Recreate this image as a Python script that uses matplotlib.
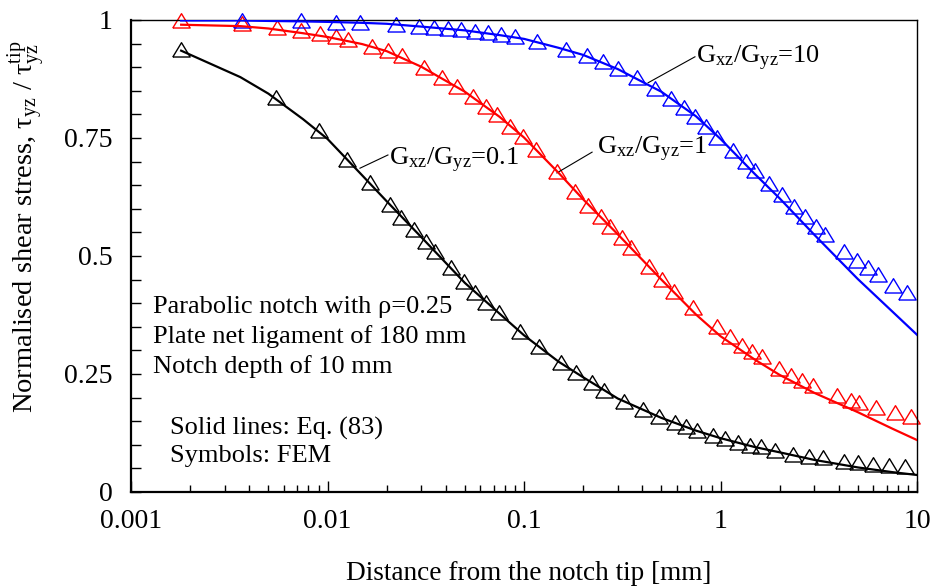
import numpy as np
import matplotlib
matplotlib.use('Agg')
import matplotlib.pyplot as plt
from matplotlib.ticker import MultipleLocator, LogLocator, NullFormatter

plt.rcParams['font.family'] = ['Liberation Serif', 'DejaVu Serif']
plt.rcParams['mathtext.fontset'] = 'custom'
plt.rcParams['mathtext.rm'] = 'Liberation Serif'
plt.rcParams['mathtext.it'] = 'Liberation Serif:italic'

# Eq. (83) curves, sampled on a common grid of distances [mm]
line_x = [0.0018, 0.0036, 0.005, 0.0075, 0.01, 0.015, 0.02, 0.03, 0.05, 0.075, 0.1,
          0.15, 0.2, 0.3, 0.5, 0.75, 1, 1.5, 2, 3, 5, 7.5, 10]
line_g01 = [0.935, 0.879, 0.844, 0.790, 0.748, 0.671, 0.616, 0.540, 0.443, 0.378, 0.332,
            0.276, 0.243, 0.198, 0.157, 0.130, 0.114, 0.095, 0.084, 0.068, 0.052, 0.042, 0.036]
line_g1 = [0.990, 0.987, 0.982, 0.972, 0.964, 0.949, 0.934, 0.901, 0.848, 0.795, 0.751,
           0.676, 0.620, 0.546, 0.450, 0.376, 0.330, 0.280, 0.248, 0.210, 0.169, 0.134, 0.110]
line_g10 = [0.999, 0.999, 0.998, 0.997, 0.996, 0.994, 0.992, 0.986, 0.978, 0.968, 0.960,
            0.941, 0.926, 0.896, 0.848, 0.796, 0.748, 0.673, 0.622, 0.545, 0.451, 0.382, 0.333]

# FEM results
fem_x_g01 = [0.0018, 0.00547, 0.00906, 0.01257, 0.01646, 0.0208, 0.02366, 0.02756, 0.0317,
             0.0352, 0.0425, 0.0495, 0.0563, 0.0641, 0.0746, 0.0955, 0.119, 0.154, 0.184,
             0.222, 0.255, 0.323, 0.403, 0.486, 0.587, 0.667, 0.759, 0.916, 1.054, 1.228,
             1.413, 1.607, 1.893, 2.339, 2.82, 3.33, 4.25, 5.01, 5.97, 7.21, 8.69]
fem_y_g01 = [0.936, 0.835, 0.765, 0.703, 0.655, 0.608, 0.581, 0.555, 0.530, 0.508, 0.475,
             0.445, 0.422, 0.400, 0.379, 0.339, 0.307, 0.273, 0.252, 0.231, 0.214, 0.191,
             0.174, 0.159, 0.146, 0.138, 0.129, 0.119, 0.112, 0.104, 0.097, 0.095, 0.087,
             0.078, 0.074, 0.072, 0.064, 0.061, 0.057, 0.055, 0.053]

fem_x_g1 = [0.0018, 0.00367, 0.00553, 0.00733, 0.00916, 0.01104, 0.0127, 0.01684, 0.0203,
            0.0239, 0.031, 0.0383, 0.0456, 0.055, 0.0641, 0.0729, 0.0849, 0.0989, 0.115,
            0.147, 0.182, 0.212, 0.247, 0.274, 0.315, 0.351, 0.433, 0.504, 0.580, 0.724,
            0.960, 1.117, 1.286, 1.445, 1.626, 1.985, 2.285, 2.600, 2.958, 3.92, 4.61,
            5.07, 6.18, 7.73, 9.31]
fem_y_g1 = [0.998, 0.992, 0.983, 0.977, 0.970, 0.964, 0.958, 0.943, 0.934, 0.924, 0.898,
            0.877, 0.858, 0.837, 0.816, 0.799, 0.773, 0.752, 0.725, 0.678, 0.636, 0.606,
            0.583, 0.561, 0.538, 0.517, 0.477, 0.449, 0.424, 0.390, 0.350, 0.328, 0.309,
            0.297, 0.286, 0.261, 0.246, 0.235, 0.225, 0.203, 0.193, 0.189, 0.178, 0.167,
            0.159]

fem_x_g10 = [0.00367, 0.00733, 0.01104, 0.01463, 0.0223, 0.0292, 0.0348, 0.0411, 0.0478,
             0.0563, 0.0656, 0.0764, 0.0900, 0.1164, 0.1637, 0.2094, 0.2524, 0.3007,
             0.3758, 0.4643, 0.560, 0.652, 0.742, 0.844, 0.960, 1.158, 1.349, 1.499,
             1.766, 2.056, 2.366, 2.692, 3.062, 3.40, 4.25, 4.95, 5.63, 6.34, 7.55, 8.89]
fem_y_g10 = [0.997, 0.997, 0.994, 0.994, 0.989, 0.985, 0.983, 0.981, 0.979, 0.975, 0.972,
             0.968, 0.964, 0.953, 0.936, 0.924, 0.911, 0.896, 0.877, 0.854, 0.833, 0.814,
             0.794, 0.773, 0.750, 0.722, 0.699, 0.680, 0.653, 0.629, 0.604, 0.583, 0.561,
             0.544, 0.508, 0.489, 0.475, 0.460, 0.436, 0.422]

x_ticks = [0.001, 0.01, 0.1, 1, 10]
x_ticklabels = ['0.001', '0.01', '0.1', '1', '10']
y_ticks = [0, 0.25, 0.5, 0.75, 1]
y_ticklabels = ['0', '0.25', '0.5', '0.75', '1']

fs = 19
tri = [(-1.0, -0.75), (1.0, -0.75), (0.0, 0.9), (-1.0, -0.75)]

fig = plt.figure(figsize=(9.33, 5.88), dpi=100)
ax = fig.add_axes([0.1404, 0.1633, 0.8425, 0.8027])

for lx, ly, fx, fy, c in [(line_x, line_g01, fem_x_g01, fem_y_g01, 'black'),
                          (line_x, line_g1, fem_x_g1, fem_y_g1, 'red'),
                          (line_x, line_g10, fem_x_g10, fem_y_g10, 'blue')]:
    ax.plot(fx, fy, linestyle='none', marker=tri, markersize=12.5, markerfacecolor='none',
            markeredgecolor=c, markeredgewidth=1.0, clip_on=False, zorder=2)
    ax.plot(lx, ly, color=c, linewidth=1.6, zorder=3)

ax.set_xscale('log')
ax.set_xlim(0.001, 10)
ax.set_ylim(0, 1)
ax.set_xticks(x_ticks, labels=x_ticklabels)
ax.xaxis.set_minor_locator(LogLocator(base=10, subs=np.arange(2, 10)))
ax.xaxis.set_minor_formatter(NullFormatter())
ax.set_yticks(y_ticks, labels=y_ticklabels)
ax.yaxis.set_minor_locator(MultipleLocator(0.05))

ax.tick_params(which='both', direction='in', top=False, right=False, labelsize=20, width=1.0)
ax.tick_params(axis='x', which='major', length=8, pad=12)
ax.tick_params(axis='x', which='minor', length=5)
ax.tick_params(axis='y', which='both', length=7, pad=13)
ax.spines['left'].set_linewidth(1.6)
ax.spines['bottom'].set_linewidth(1.6)
ax.spines['top'].set_linewidth(1.0)
ax.spines['right'].set_linewidth(1.0)

# leader lines and curve labels
ax.plot([0.01463, 0.0203], [0.686, 0.714], color='black', linewidth=0.8)
ax.text(0.0206, 0.691, r'G$_{\rm xz}$/G$_{\rm yz}$=0.1', fontsize=fs, va='baseline')
ax.plot([0.147, 0.222], [0.676, 0.720], color='black', linewidth=0.8)
ax.text(0.2355, 0.716, r'G$_{\rm xz}$/G$_{\rm yz}$=1', fontsize=fs, va='baseline')
ax.plot([0.428, 0.741], [0.867, 0.922], color='black', linewidth=0.8)
ax.text(0.750, 0.909, r'G$_{\rm xz}$/G$_{\rm yz}$=10', fontsize=fs, va='baseline')

ax.text(0.028, 0.379, 'Parabolic notch with ρ=0.25', transform=ax.transAxes, fontsize=fs, va='baseline')
ax.text(0.028, 0.316, 'Plate net ligament of 180 mm', transform=ax.transAxes, fontsize=fs, va='baseline')
ax.text(0.028, 0.252, 'Notch depth of 10 mm', transform=ax.transAxes, fontsize=fs, va='baseline')
ax.text(0.0496, 0.121, 'Solid lines: Eq. (83)', transform=ax.transAxes, fontsize=fs, va='baseline')
ax.text(0.0496, 0.064, 'Symbols: FEM', transform=ax.transAxes, fontsize=fs, va='baseline')

fig.text(0.567, 0.024, 'Distance from the notch tip [mm]', fontsize=19.6, ha='center', va='center')
fig.text(0.030, 0.615, r'Normalised shear stress, τ$_{\rm yz}$ / τ$_{\rm yz}^{\rm tip}$',
         fontsize=20.5, rotation=90, ha='center', va='center')

fig.savefig('out.png', dpi=100)
